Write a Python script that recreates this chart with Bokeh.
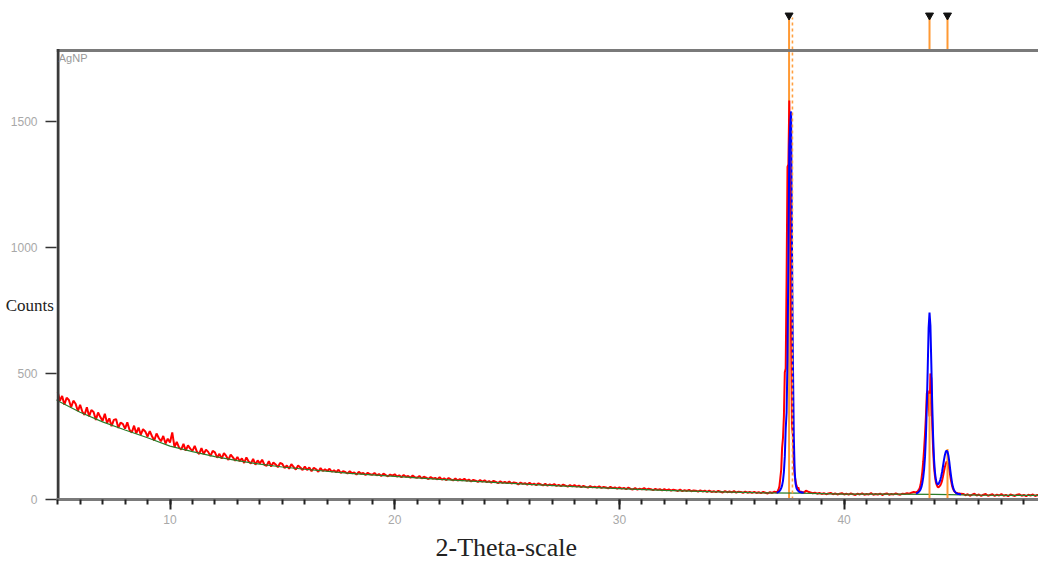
import numpy as np
from bokeh.plotting import figure
from bokeh.models import FixedTicker, Label, Range1d, Title
from bokeh.embed import file_html
from bokeh.resources import INLINE

# ---------------- data ----------------
# observed counts (red), segment 5.0 .. 36.9 deg, step 0.1
obs_a_start, obs_a_step = 5.0, 0.1
obs_a = [
    428, 392, 411, 376, 404, 395, 366, 392, 380, 351,
    376, 348, 336, 366, 330, 355, 347, 316, 345, 327,
    312, 340, 304, 322, 291, 316, 319, 284, 305, 300,
    281, 306, 276, 266, 293, 262, 285, 257, 279, 270,
    250, 271, 251, 234, 262, 244, 231, 252, 222, 241,
    226, 266, 208, 229, 207, 198, 221, 194, 215, 202,
    193, 213, 189, 181, 204, 180, 198, 189, 172, 193,
    187, 166, 181, 162, 184, 173, 157, 178, 167, 154,
    169, 152, 163, 145, 167, 151, 143, 161, 138, 155,
    143, 158, 138, 134, 152, 131, 147, 139, 128, 145,
    141, 125, 135, 122, 140, 129, 119, 135, 127, 117,
    131, 117, 127, 112, 126, 120, 110, 125, 113, 120,
    113, 122, 110, 116, 108, 118, 105, 112, 109, 103,
    112, 104, 107, 99, 110, 102, 105, 97, 106, 100,
    98, 105, 96, 101, 93, 103, 97, 92, 99, 95,
    100, 91, 96, 88, 97, 90, 93, 86, 95, 88,
    86, 93, 84, 90, 87, 81, 89, 83, 86, 80,
    88, 79, 84, 77, 85, 80, 76, 83, 75, 81,
    76, 82, 74, 79, 72, 78, 75, 70, 77, 71,
    76, 69, 73, 67, 74, 70, 65, 72, 66, 70,
    65, 71, 63, 68, 66, 60, 67, 62, 65, 59,
    66, 59, 63, 57, 64, 60, 56, 62, 55, 60,
    56, 61, 54, 58, 53, 59, 55, 51, 57, 52,
    57, 51, 55, 49, 54, 50, 47, 53, 48, 51,
    47, 52, 46, 50, 48, 44, 50, 45, 48, 43,
    48, 43, 46, 41, 47, 42, 40, 45, 39, 43,
    40, 45, 39, 43, 41, 37, 42, 38, 41, 36,
    41, 36, 40, 35, 39, 37, 34, 39, 33, 37,
    34, 38, 33, 36, 35, 31, 36, 32, 35, 30,
    35, 30, 33, 29, 34, 31, 28, 33, 29, 32,
    28, 33, 27, 31, 30, 26, 31, 27, 30, 26,
    30, 26, 29, 25, 30, 27, 24, 29, 26, 31,
]
# observed counts, first peak, 37.00 .. 38.20, step 0.04
obs_p1_start, obs_p1_step = 37.0, 0.04
obs_p1 = [28, 32, 40, 52, 85, 118, 205, 245, 330, 505, 520, 880, 1320, 1330,
          1583, 1180, 640, 290, 255, 150, 96, 72, 55, 44, 48, 36, 30, 33, 27, 30, 26]
# observed counts, 38.3 .. 43.1, step 0.1
obs_b_start, obs_b_step = 38.3, 0.1
obs_b = [35, 31, 28, 25, 27, 23, 26, 22, 25, 21, 24, 26, 21, 24, 20, 23, 25, 20,
         23, 19, 24, 21, 18, 23, 20, 24, 19, 22, 20, 25, 19, 22, 20, 23, 18, 22,
         24, 19, 22, 20, 24, 21, 19, 23, 22, 25, 23, 27, 30]
# observed counts, second/third peaks, 43.20 .. 45.20, step 0.04
obs_p2_start, obs_p2_step = 43.2, 0.04
obs_p2 = [28, 30, 33, 38, 45, 58, 80, 110, 150, 200, 260, 330, 420, 432, 380, 330,
          500, 480, 300, 200, 130, 95, 70, 58, 50, 48, 52, 56, 64, 75, 92, 110, 128,
          140, 150, 147, 138, 120, 96, 74, 56, 44, 36, 31, 28, 24, 26, 22, 25, 21, 23]
# observed counts, 45.3 .. 48.7, step 0.1
obs_c_start, obs_c_step = 45.3, 0.1
obs_c = [22, 17, 21, 15, 19, 23, 16, 20, 14, 19, 22, 15, 18, 21, 14, 19, 16, 22,
         15, 18, 13, 20, 17, 14, 19, 21, 15, 18, 13, 19, 16, 20, 14, 18, 15]

# calculated profile (blue) around the peaks
calc_p1 = [27, 28, 30, 33, 38, 45, 56, 75, 110, 170, 280, 345, 560, 960, 1400,
           1480, 1540, 1000, 560, 250, 110, 62, 45, 38, 34, 31, 30, 29, 28, 28, 27]
calc_p2 = [24, 25, 27, 30, 34, 40, 50, 65, 88, 120, 170, 250, 370, 520, 680, 742,
           690, 540, 380, 250, 160, 110, 80, 65, 60, 62, 68, 78, 92, 110, 132, 155,
           175, 188, 194, 190, 175, 150, 120, 92, 68, 50, 39, 32, 28, 25, 23, 22,
           22, 21, 21]

# background (green)
bg_theta = [4.9, 5, 6, 7, 8, 9, 10, 11, 12, 13, 14, 15, 16, 18, 20, 22, 24, 26,
            28, 30, 32, 34, 36, 38, 40, 42, 44, 46, 48, 48.8]
bg_counts = [396, 392, 346, 308, 276, 245, 212, 190, 170, 154, 140, 129, 120, 104,
             92, 80, 70, 60, 51, 43, 36, 31, 27, 25, 21, 21, 20, 17, 16, 16]

# reference peak list (orange sticks) and markers
ref_pos = [37.55, 43.80, 44.60]
ref_height = [1782, 420, 200]
k_alpha2_pos = [37.70]

x_ticks = [10, 20, 30, 40]
y_ticks = [0, 500, 1000, 1500]


def seg(start, step, vals):
    return list(np.round(start + step * np.arange(len(vals)), 3))


obs_theta = (seg(obs_a_start, obs_a_step, obs_a) + seg(obs_p1_start, obs_p1_step, obs_p1)
             + seg(obs_b_start, obs_b_step, obs_b) + seg(obs_p2_start, obs_p2_step, obs_p2)
             + seg(obs_c_start, obs_c_step, obs_c))
obs_counts = obs_a + obs_p1 + obs_b + obs_p2 + obs_c

# ---------------- figure ----------------
PX_PER_DEG = 22.47
X0, X1 = 4.949, 48.65
FRAME_TOP = 1782
Y_END = 1980
MARK_Y = 1921

p = figure(width=1038, height=576, output_backend="svg", toolbar_location=None,
           x_range=Range1d(X0, X1), y_range=Range1d(0, Y_END),
           min_border_left=56, min_border_right=0, min_border_top=0,
           min_border_bottom=77, title=None)
p.outline_line_color = None
p.xgrid.visible = False
p.ygrid.visible = False
p.background_fill_color = "white"

# x axis
xa = p.xaxis[0]
xa.ticker = FixedTicker(ticks=x_ticks, minor_ticks=list(range(5, 49)))
xa.axis_line_color = "#7a7a7a"
xa.axis_line_width = 3
xa.major_tick_in = 0
xa.major_tick_out = 10
xa.minor_tick_in = 0
xa.minor_tick_out = 5
xa.major_tick_line_color = "#222222"
xa.major_tick_line_width = 2
xa.minor_tick_line_color = "#222222"
xa.minor_tick_line_width = 2
xa.major_label_text_font = "Liberation Sans"
xa.major_label_text_font_size = "12px"
xa.major_label_text_color = "#a8a8a8"
xa.major_label_standoff = 5

# y axis (its label sits horizontally at the left, below the frame's middle)
ya = p.yaxis[0]
ya.ticker = FixedTicker(ticks=y_ticks, minor_ticks=[])
ya.axis_line_color = None
ya.major_tick_in = 0
ya.major_tick_out = 11
ya.minor_tick_out = 0
ya.major_tick_line_color = "#333333"
ya.major_tick_line_width = 1.5
ya.major_label_text_font = "Liberation Sans"
ya.major_label_text_font_size = "12px"
ya.major_label_text_color = "#a8a8a8"
ya.major_label_standoff = 8
ya.axis_label = "\n\n\n\nCounts"
ya.axis_label_orientation = "horizontal"
ya.axis_label_text_font = "Liberation Serif"
ya.axis_label_text_font_size = "17px"
ya.axis_label_text_font_style = "normal"
ya.axis_label_text_color = "#222222"
ya.axis_label_text_line_height = 1.45
ya.axis_label_standoff = -46

# reference sticks & markers
p.segment(x0=ref_pos[:1], y0=[0], x1=ref_pos[:1], y1=ref_height[:1],
          line_color="#ff9933", line_width=2)
p.segment(x0=ref_pos, y0=[FRAME_TOP] * 3, x1=ref_pos, y1=[MARK_Y - 8] * 3,
          line_color="#ff9933", line_width=2)

# observed
p.line(obs_theta, obs_counts, line_color="#ff0000", line_width=2.0)
# background
p.line(bg_theta, bg_counts, line_color="#2a7d2a", line_width=1.2)
# small reference sticks
p.segment(x0=ref_pos[1:], y0=[0, 0], x1=ref_pos[1:], y1=ref_height[1:],
          line_color="#ff9933", line_width=2)
# calculated profile
p.line(seg(obs_p1_start, obs_p1_step, calc_p1), calc_p1, line_color="#0000ff", line_width=2)
p.line(seg(obs_p2_start, obs_p2_step, calc_p2), calc_p2, line_color="#0000ff", line_width=2)
# k-alpha2 dashed marker
p.segment(x0=k_alpha2_pos, y0=[0], x1=k_alpha2_pos, y1=[MARK_Y - 8],
          line_color="#ffa040", line_width=1.6, line_dash="3 3")

# frame lines
p.segment(x0=[X0], y0=[FRAME_TOP], x1=[X1], y1=[FRAME_TOP], line_color="#7a7a7a", line_width=3)
p.segment(x0=[X0 + 1.5 / PX_PER_DEG], y0=[0], x1=[X0 + 1.5 / PX_PER_DEG], y1=[FRAME_TOP + 6],
          line_color="#3a3a3a", line_width=3)

# peak markers
p.scatter(ref_pos, [MARK_Y] * 3, marker="inverted_triangle", size=8,
          fill_color="#111111", line_color="#111111")

# texts
p.add_layout(Label(x=X0 + 0.1, y=1750, text="AgNP", text_font="Liberation Sans",
                   text_font_size="11px", text_color="#999999", text_baseline="middle"))
p.add_layout(Title(text="2-Theta-scale", align="left", offset=379, standoff=8,
                   text_font="Liberation Serif", text_font_size="26px",
                   text_color="#222222", text_font_style="normal"), "below")

open("out.html", "w").write(file_html(p, INLINE))
